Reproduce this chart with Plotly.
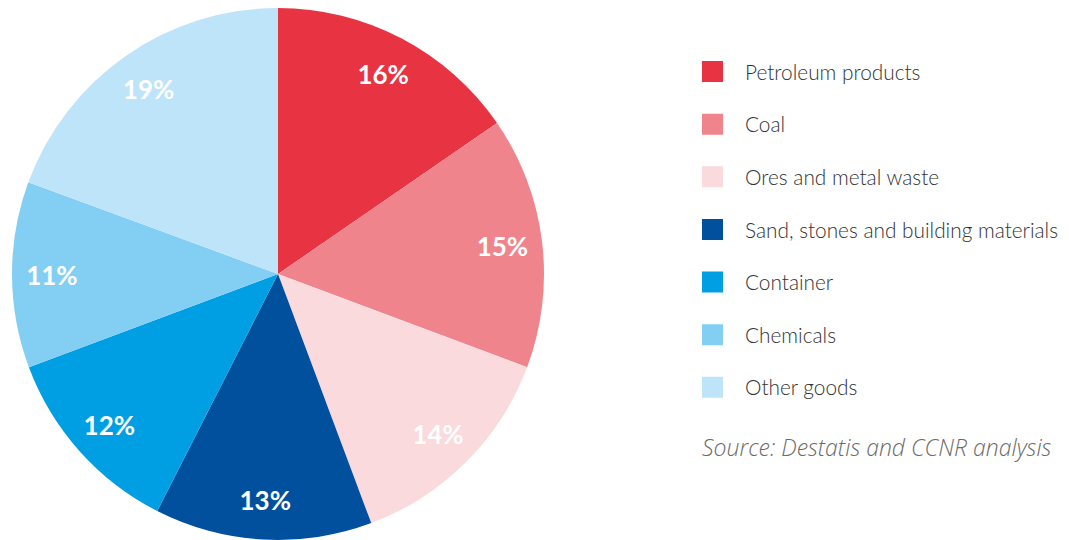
import plotly.graph_objects as go

categories = ["Petroleum products", "Coal", "Ores and metal waste",
              "Sand, stones and building materials", "Container", "Chemicals", "Other goods"]
# slice sizes as measured off the drawing, and the printed (rounded) percentages
shares = [15.4, 15.3, 13.6, 13.2, 11.8, 11.3, 19.4]
pct_labels = [16, 15, 14, 13, 12, 11, 19]
colors = ["#E83442", "#F0848C", "#FADADD", "#00509E", "#009FE3", "#83CFF4", "#BEE4F9"]
source = "Source: Destatis and CCNR analysis"

W, H = 1069, 540
MB = 8  # bottom margin, keeps the pie radius at ~266px
PH = H - MB

# the page body has an 8px margin, so everything below is laid out 8px up/left
dom = dict(x=[(270 - 266) / W, (270 + 266) / W], y=[0, 1])

fig = go.Figure()

# coloured slices
fig.add_trace(go.Pie(
    labels=categories, values=shares, sort=False,
    direction="clockwise", rotation=0,
    marker=dict(colors=colors, line=dict(width=0)),
    textinfo="none", domain=dom, showlegend=False,
    hoverinfo="label+text", text=[f"{p}%" for p in pct_labels],
))

# transparent ring on top, only to carry the % labels out near the rim
fig.add_trace(go.Pie(
    labels=categories, values=shares, sort=False,
    direction="clockwise", rotation=0, hole=0.7,
    marker=dict(colors=["rgba(0,0,0,0)"] * len(shares), line=dict(width=0)),
    text=pct_labels, texttemplate="%{text}%", textposition="inside",
    insidetextorientation="horizontal",
    textfont=dict(family="Lato", size=26, color="white", weight="bold"),
    domain=dom, showlegend=False, hoverinfo="skip",
))

# legend entries as dummy traces so the squares and spacing can be sized
for i, (name, c) in enumerate(zip(categories, colors)):
    fig.add_trace(go.Scatter(
        x=[None], y=[None], mode="markers", name=name,
        legendgroup=f"g{i}",
        marker=dict(symbol="square", size=16, color=c, line=dict(color=c, width=5)),
    ))

fig.add_annotation(
    text=source, xref="paper", yref="paper",
    x=692 / W, y=1 - 439 / PH, xanchor="left", yanchor="middle",
    showarrow=False,
    font=dict(family="Open Sans", size=23, color="#6b6b6b", style="italic", weight=300),
)

fig.update_xaxes(visible=False)
fig.update_yaxes(visible=False)
fig.update_layout(
    width=W, height=H,
    margin=dict(l=0, r=0, t=0, b=MB, autoexpand=False),
    paper_bgcolor="white", plot_bgcolor="white",
    showlegend=True,
    legend=dict(
        x=672 / W, y=1 - 43.5 / PH, xanchor="left", yanchor="top",
        font=dict(family="Lato", size=20.8, color="#333333", weight=300),
        tracegroupgap=22.6, itemwidth=55, itemclick=False,
    ),
)

fig.write_html("out.html")
